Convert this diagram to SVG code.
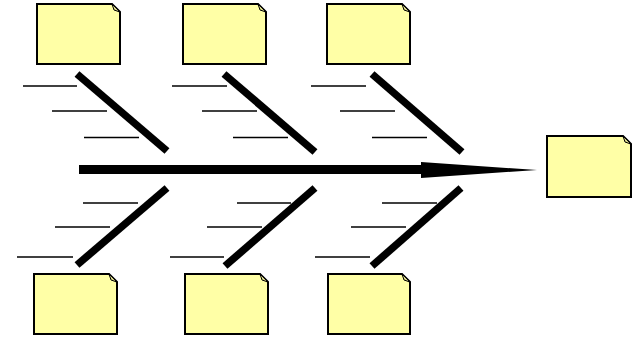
<svg xmlns="http://www.w3.org/2000/svg" width="633" height="338" viewBox="0 0 633 338">
<style>
.box{fill:#FFFFA6;stroke:#000;stroke-width:2;stroke-linejoin:miter}
.fold{fill:#D8D88A;stroke:#000;stroke-width:1}
.bone{stroke:#000;stroke-width:7.5;stroke-linecap:butt;fill:none}
.rib{stroke:#000;stroke-width:1.6;fill:none}
</style>
<rect width="633" height="338" fill="#fff"/>
<g id="connectors">
<line class="rib" x1="79" y1="169.5" x2="425" y2="169.5" style="stroke-width:9"/>
<polygon points="421,162 537,170 421,178" fill="#000"/>
<line class="bone" x1="77" y1="74" x2="167" y2="151"/>
<line class="bone" x1="224" y1="74" x2="315" y2="152"/>
<line class="bone" x1="372" y1="74" x2="462" y2="152"/>
<line class="bone" x1="167" y1="188" x2="77" y2="265"/>
<line class="bone" x1="315" y1="188" x2="225" y2="266"/>
<line class="bone" x1="461" y1="188" x2="372" y2="266"/>
<line class="rib" x1="23" y1="86" x2="77" y2="86"/>
<line class="rib" x1="52" y1="111" x2="107" y2="111"/>
<line class="rib" x1="84" y1="137.5" x2="139" y2="137.5"/>
<line class="rib" x1="172" y1="86" x2="227" y2="86"/>
<line class="rib" x1="202" y1="111" x2="257" y2="111"/>
<line class="rib" x1="233" y1="137.5" x2="288" y2="137.5"/>
<line class="rib" x1="311" y1="86" x2="366" y2="86"/>
<line class="rib" x1="340" y1="111" x2="395" y2="111"/>
<line class="rib" x1="372" y1="137.5" x2="427" y2="137.5"/>
<line class="rib" x1="83" y1="203" x2="138" y2="203"/>
<line class="rib" x1="55" y1="227" x2="110" y2="227"/>
<line class="rib" x1="17" y1="257" x2="73" y2="257"/>
<line class="rib" x1="237" y1="203" x2="291" y2="203"/>
<line class="rib" x1="207" y1="227" x2="262" y2="227"/>
<line class="rib" x1="170" y1="257" x2="224" y2="257"/>
<line class="rib" x1="382" y1="203" x2="437" y2="203"/>
<line class="rib" x1="351" y1="227" x2="406" y2="227"/>
<line class="rib" x1="315" y1="257" x2="370" y2="257"/>
</g>
<g id="box-top-1"><path class="box" d="M37,4 H112 L120,12 V64 H37 Z"/><path class="fold" d="M112,4 L114,10 L120,12 Z"/></g>
<g id="box-top-2"><path class="box" d="M183,4 H258 L266,12 V64 H183 Z"/><path class="fold" d="M258,4 L260,10 L266,12 Z"/></g>
<g id="box-top-3"><path class="box" d="M327,4 H402 L410,12 V64 H327 Z"/><path class="fold" d="M402,4 L404,10 L410,12 Z"/></g>
<g id="box-bottom-1"><path class="box" d="M34,274 H109 L117,282 V334 H34 Z"/><path class="fold" d="M109,274 L111,280 L117,282 Z"/></g>
<g id="box-bottom-2"><path class="box" d="M185,274 H260 L268,282 V334 H185 Z"/><path class="fold" d="M260,274 L262,280 L268,282 Z"/></g>
<g id="box-bottom-3"><path class="box" d="M328,274 H402 L410,282 V334 H328 Z"/><path class="fold" d="M402,274 L404,280 L410,282 Z"/></g>
<g id="box-effect"><path class="box" d="M547,136 H623 L631,144 V197 H547 Z"/><path class="fold" d="M623,136 L625,142 L631,144 Z"/></g>
</svg>
